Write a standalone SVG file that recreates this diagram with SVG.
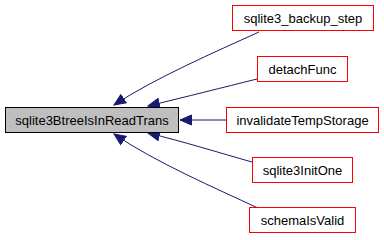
<svg xmlns="http://www.w3.org/2000/svg" width="384" height="240" viewBox="0 0 384 240">
  <style>
    .node rect { stroke-width: 1; }
    .focus rect { fill: #bfbfbf; stroke: #000000; }
    .caller rect { fill: #ffffff; stroke: #ff0000; }
    text { font-family: "Liberation Sans", Arial, sans-serif; font-size: 13px; fill: #000000; text-anchor: middle; }
    .edge { fill: none; stroke: #191970; stroke-width: 1; marker-end: url(#arrow); }
  </style>
  <defs>
    <marker id="arrow" markerUnits="userSpaceOnUse" markerWidth="14" markerHeight="12" refX="12" refY="6" orient="auto">
      <polygon points="0.5,1 12,6 0.5,11" fill="#191970" stroke="#191970" stroke-width="1"/>
    </marker>
  </defs>
  <rect width="384" height="240" fill="#ffffff"/>

  <g id="edges">
    <path class="edge" d="M259,32 C215,52 155,78 114,105"/>
    <path class="edge" d="M257,79 C225,87 185,97 148,106"/>
    <path class="edge" d="M226,120 L180,120"/>
    <path class="edge" d="M252,162 C220,153 185,142 148,133"/>
    <path class="edge" d="M258,208 C215,188 155,162 114,134"/>
  </g>

  <g id="sqlite3BtreeIsInReadTrans" class="node focus">
    <rect x="5.5" y="107.5" width="173" height="25"/>
    <text x="92" y="125">sqlite3BtreeIsInReadTrans</text>
  </g>
  <g id="sqlite3_backup_step" class="node caller">
    <rect x="232.5" y="5.5" width="141" height="25"/>
    <text x="303" y="23">sqlite3_backup_step</text>
  </g>
  <g id="detachFunc" class="node caller">
    <rect x="257.5" y="56.5" width="90" height="25"/>
    <text x="302.5" y="74">detachFunc</text>
  </g>
  <g id="invalidateTempStorage" class="node caller">
    <rect x="226.5" y="107.5" width="152" height="25"/>
    <text x="302.5" y="125">invalidateTempStorage</text>
  </g>
  <g id="sqlite3InitOne" class="node caller">
    <rect x="252.5" y="157.5" width="100" height="25"/>
    <text x="302.5" y="175">sqlite3InitOne</text>
  </g>
  <g id="schemaIsValid" class="node caller">
    <rect x="249.5" y="207.5" width="106" height="25"/>
    <text x="302.5" y="225">schemaIsValid</text>
  </g>
</svg>
